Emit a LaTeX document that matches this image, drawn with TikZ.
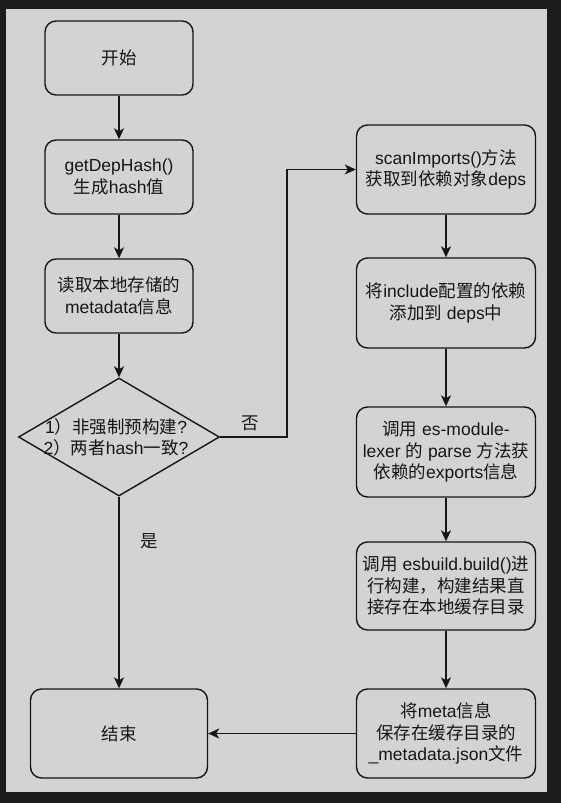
\documentclass[tikz,border=0pt]{standalone}
\usepackage{fontspec}
\setmainfont{Liberation Sans}
\newfontfamily\cjk{Noto Sans CJK SC}
\newcommand\zh[1]{{\cjk #1}}
\usetikzlibrary{arrows.meta,shapes.geometric}
\definecolor{frame}{HTML}{1C1C1C}
\definecolor{panel}{HTML}{D2D3D3}
\definecolor{ink}{HTML}{161616}
\tikzset{
  box/.style={draw=ink, line width=1.4pt, rounded corners=11pt, align=center,
    inner sep=0pt, font=\fontsize{17.5}{21.5}\selectfont, text=ink},
  leftbox/.style={box, minimum width=148pt, minimum height=74pt},
  rightbox/.style={box, minimum width=179pt, minimum height=89pt},
  conn/.style={draw=ink, line width=1.4pt, -{Stealth[length=11pt,width=10pt,inset=3pt]}},
  lbl/.style={font=\fontsize{17.5}{21.5}\selectfont, text=ink, inner sep=0pt},
}
\begin{document}
\begin{tikzpicture}[x=1pt,y=-1pt]
\fill[frame] (0,0) rectangle (561,803);
\fill[panel] (6,9) rectangle (547,792);
\useasboundingbox (0,0) rectangle (561,803);

\node[leftbox] (start) at (119,58) {\zh{开始}};
\node[leftbox] (hash) at (119,177) {getDepHash()\\\zh{生成}hash\zh{值}};
\node[leftbox] (read) at (119,296) {\zh{读取本地存储的}\\metadata\zh{信息}};
\node[draw=ink, line width=1.4pt, shape=diamond, inner sep=0pt,
      minimum width=201pt, minimum height=118pt] (dec) at (119,437) {};
\node[lbl, align=center] (dectext) at (116,437.5) {1\zh{）}\zh{非强制预构建}?\\2\zh{）}\zh{两者}hash\zh{一致}?};
\node[box, minimum width=177pt, minimum height=89pt] (end) at (119,733.5) {\zh{结束}};

\node[rightbox] (scan) at (446,169.5) {scanImports()\zh{方法}\\\zh{获取到依赖对象}deps};
\node[rightbox, minimum height=90pt] (incl) at (446,303) {\zh{将}include\zh{配置的依赖}\\\zh{添加到} deps\zh{中}};
\node[rightbox, minimum height=90pt] (lex) at (446,452) {\zh{调用} es-module-\\lexer \zh{的} parse \zh{方法获}\\\zh{依赖的}exports\zh{信息}};
\node[rightbox, minimum height=88pt] (esb) at (446,586) {\zh{调用} esbuild.build()\zh{进}\\\zh{行构建，构建结果直}\\\zh{接存在本地缓存目录}};
\node[rightbox] (meta) at (446,733.5) {\zh{将}meta\zh{信息}\\\zh{保存在缓存目录的}\\\_metadata.json\zh{文件}};

\coordinate (bend) at (287,437);

\draw[conn] (start) -- (hash);
\draw[conn] (hash) -- (read);
\draw[conn] (read.south) -- (dec.north);
\draw[conn] (dec.south) -- (end.north);
\draw[conn] (dec.east) -- (bend) |- (scan.west);
\draw[conn] (scan) -- (incl);
\draw[conn] (incl) -- (lex);
\draw[conn] (lex) -- (esb);
\draw[conn] (esb) -- (meta);
\draw[conn] (meta) -- (end);

\node[lbl] (no) at (250,423) {\zh{否}};
\node[lbl] (yes) at (149,541) {\zh{是}};
\end{tikzpicture}
\end{document}
